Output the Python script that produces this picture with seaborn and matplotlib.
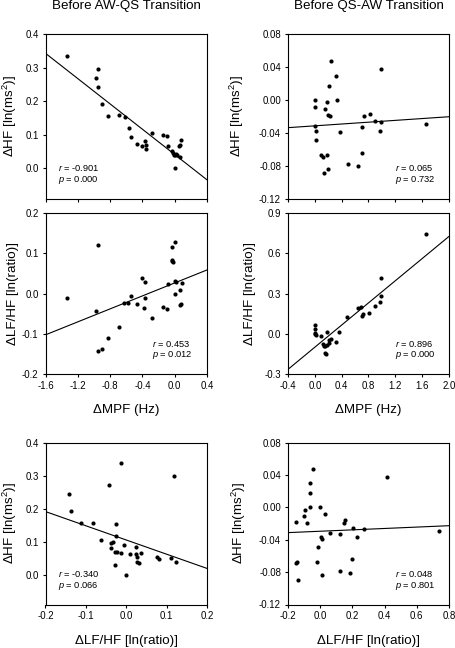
import numpy as np
import pandas as pd
import matplotlib
matplotlib.use("Agg")
import matplotlib.pyplot as plt
import seaborn as sns
from matplotlib.ticker import FormatStrFormatter

sns.set_theme(style="ticks")
plt.rcParams['font.family'] = ['Liberation Sans', 'DejaVu Sans']
plt.rcParams['mathtext.fontset'] = 'custom'
plt.rcParams['mathtext.rm'] = 'Liberation Sans'
plt.rcParams['mathtext.it'] = 'Liberation Sans:italic'
plt.rcParams['axes.unicode_minus'] = False

# ---------------- data ----------------
titles = ["Before AW-QS Transition", "Before QS-AW Transition"]

# Before AW-QS: dMPF vs dHF
awqs_mpf_hf_x = [-1.33, -0.95, -0.97, -0.95, -0.90, -0.82, -0.685, -0.62, -0.57, -0.54, -0.47, -0.40,
                 -0.37, -0.36, -0.36, -0.28, -0.15, -0.095, -0.08, -0.035, -0.02, -0.01, 0.0, 0.008,
                 0.02, 0.03, 0.06, 0.05, 0.07, 0.08]
awqs_mpf_hf_y = [0.333, 0.296, 0.269, 0.242, 0.192, 0.156, 0.157, 0.152, 0.119, 0.092, 0.072, 0.067,
                 0.082, 0.068, 0.057, 0.104, 0.100, 0.096, 0.065, 0.052, 0.045, 0.040, 0.0, 0.040,
                 0.042, 0.038, 0.032, 0.065, 0.069, 0.085]

# Before AW-QS: dMPF vs dLF/HF
awqs_mpf_lfhf_x = [-1.339, -0.954, -0.975, -0.954, -0.904, -0.822, -0.689, -0.623, -0.573, -0.544,
                   -0.470, -0.399, -0.362, -0.362, -0.374, -0.283, -0.151, -0.097, -0.084, -0.035,
                   -0.035, -0.028, -0.02, 0.0, 0.0, 0.008, 0.02, 0.06, 0.06, 0.08, 0.09]
awqs_mpf_lfhf_y = [-0.011, 0.121, -0.043, -0.144, -0.137, -0.111, -0.082, -0.024, -0.024, -0.005,
                   -0.027, 0.038, 0.029, -0.012, -0.037, -0.062, -0.033, -0.038, 0.024, 0.115,
                   0.084, 0.080, 0.078, 0.127, 0.0, 0.032, 0.028, 0.009, -0.028, -0.026, 0.026]

# Before AW-QS: dLF/HF vs dHF
awqs_lfhf_hf_x = [-0.142, -0.136, -0.111, -0.083, -0.062, -0.043, -0.038, -0.037, -0.034, -0.028,
                  -0.027, -0.024, -0.025, -0.025, -0.012, -0.012, -0.005, 0.0, 0.010, 0.025,
                  0.024, 0.027, 0.027, 0.031, 0.037, 0.076, 0.080, 0.112, 0.118, 0.123]
awqs_lfhf_hf_y = [0.245, 0.193, 0.158, 0.159, 0.107, 0.272, 0.081, 0.096, 0.100, 0.031,
                  0.071, 0.069, 0.155, 0.120, 0.339, 0.068, 0.091, 0.0, 0.065, 0.084,
                  0.063, 0.056, 0.041, 0.038, 0.066, 0.056, 0.048, 0.051, 0.299, 0.041]

# Before QS-AW: dMPF vs dHF
qsaw_mpf_hf_x = [0.006, 0.006, 0.006, 0.016, 0.016, 0.095, 0.12, 0.145, 0.14, 0.18, 0.18, 0.19,
                 0.19, 0.21, 0.22, 0.24, 0.32, 0.33, 0.37, 0.49, 0.65, 0.70, 0.70, 0.73, 0.82,
                 0.90, 0.97, 0.985, 0.99, 1.655]
qsaw_mpf_hf_y = [0.0, -0.008, -0.032, -0.037, -0.049, -0.067, -0.069, -0.011, -0.089, -0.003,
                 -0.067, -0.018, -0.084, 0.017, -0.019, 0.047, 0.029, 0.0, -0.039, -0.077,
                 -0.080, -0.033, -0.064, -0.019, -0.017, -0.026, -0.037, -0.027, 0.038, -0.029]

# Before QS-AW: dMPF vs dLF/HF
qsaw_mpf_lfhf_x = [0.0, 0.0, 0.0, 0.0, 0.016, 0.085, 0.12, 0.13, 0.155, 0.145, 0.17, 0.185, 0.185,
                   0.205, 0.215, 0.235, 0.32, 0.36, 0.48, 0.65, 0.69, 0.70, 0.72, 0.81, 0.90,
                   0.965, 0.98, 0.985, 1.66]
qsaw_mpf_lfhf_y = [0.064, 0.034, 0.009, 0.0, -0.008, -0.016, -0.075, -0.095, -0.095, -0.144,
                   -0.149, 0.012, -0.087, -0.070, -0.045, -0.040, -0.060, 0.012, 0.123, 0.192,
                   0.197, 0.130, 0.148, 0.158, 0.207, 0.234, 0.281, 0.417, 0.741]

# Before QS-AW: dLF/HF vs dHF
qsaw_lfhf_hf_x = [-0.152, -0.152, -0.144, -0.138, -0.10, -0.097, -0.08, -0.066, -0.066, -0.062,
                  -0.043, -0.018, -0.014, 0.0, 0.002, 0.011, 0.011, 0.027, 0.058, 0.124, 0.12,
                  0.145, 0.155, 0.188, 0.197, 0.203, 0.23, 0.275, 0.415, 0.736]
qsaw_lfhf_hf_y = [-0.018, -0.069, -0.067, -0.090, -0.011, -0.003, -0.019, 0.030, 0.018, 0.001,
                  0.048, -0.067, -0.049, 0.0, -0.037, -0.039, -0.084, -0.008, -0.032, -0.033,
                  -0.078, -0.019, -0.016, -0.081, -0.064, -0.026, -0.037, -0.027, 0.038, -0.029]

r_labels = ["-0.901", "0.065", "0.453", "0.896", "-0.340", "0.048"]
p_labels = ["0.000", "0.732", "0.012", "0.000", "0.066", "0.801"]

ticks_mpf_awqs = [-1.6, -1.2, -0.8, -0.4, 0.0, 0.4]
ticks_mpf_qsaw = [-0.4, 0.0, 0.4, 0.8, 1.2, 1.6, 2.0]
ticks_hf_awqs = [0.0, 0.1, 0.2, 0.3, 0.4]
ticks_hf_qsaw = [-0.12, -0.08, -0.04, 0.00, 0.04, 0.08]
ticks_lfhf_awqs_y = [-0.2, -0.1, 0.0, 0.1, 0.2]
ticks_lfhf_qsaw_y = [-0.3, 0.0, 0.3, 0.6, 0.9]
ticks_lfhf_awqs_x = [-0.2, -0.1, 0.0, 0.1, 0.2]
ticks_lfhf_qsaw_x = [-0.2, 0.0, 0.2, 0.4, 0.6, 0.8]

lab_hf = "ΔHF [ln(ms$^{2}$)]"
lab_lfhf = "ΔLF/HF [ln(ratio)]"
lab_mpf = "ΔMPF (Hz)"

# ---------------- figure ----------------
W, H = 456, 648
fig = plt.figure(figsize=(W / 100, H / 100), dpi=100)

def rect(x0, x1, y0, y1):
    return [x0 / W, 1 - y1 / H, (x1 - x0) / W, (y1 - y0) / H]

panels = [
    dict(r=rect(45.5, 207, 34, 199), x=awqs_mpf_hf_x, y=awqs_mpf_hf_y, xlim=(-1.6, 0.4), ylim=(-0.092, 0.4),
         xt=ticks_mpf_awqs, yt=ticks_hf_awqs, yf='%.1f', xf='%.1f', xl=None, yl=lab_hf, tx=0.08, ylx=-0.165),
    dict(r=rect(288, 449, 34, 199), x=qsaw_mpf_hf_x, y=qsaw_mpf_hf_y, xlim=(-0.4, 2.0), ylim=(-0.12, 0.08),
         xt=ticks_mpf_qsaw, yt=ticks_hf_qsaw, yf='%.2f', xf='%.1f', xl=None, yl=lab_hf, tx=0.663, ylx=-0.258),
    dict(r=rect(45.5, 207, 213, 374), x=awqs_mpf_lfhf_x, y=awqs_mpf_lfhf_y, xlim=(-1.6, 0.4), ylim=(-0.2, 0.2),
         xt=ticks_mpf_awqs, yt=ticks_lfhf_awqs_y, yf='%.1f', xf='%.1f', xl=lab_mpf, yl=lab_lfhf, tx=0.657, ylx=-0.165),
    dict(r=rect(288, 449, 213, 374), x=qsaw_mpf_lfhf_x, y=qsaw_mpf_lfhf_y, xlim=(-0.4, 2.0), ylim=(-0.3, 0.9),
         xt=ticks_mpf_qsaw, yt=ticks_lfhf_qsaw_y, yf='%.1f', xf='%.1f', xl=lab_mpf, yl=lab_lfhf, tx=0.663, ylx=-0.196),
    dict(r=rect(45.5, 207, 442.7, 604.5), x=awqs_lfhf_hf_x, y=awqs_lfhf_hf_y, xlim=(-0.2, 0.2), ylim=(-0.088, 0.4),
         xt=ticks_lfhf_awqs_x, yt=ticks_hf_awqs, yf='%.1f', xf='%.1f', xl=lab_lfhf, yl=lab_hf, tx=0.08, ylx=-0.165),
    dict(r=rect(288, 449, 442.7, 604.5), x=qsaw_lfhf_hf_x, y=qsaw_lfhf_hf_y, xlim=(-0.2, 0.8), ylim=(-0.12, 0.08),
         xt=ticks_lfhf_qsaw_x, yt=ticks_hf_qsaw, yf='%.2f', xf='%.1f', xl=lab_lfhf, yl=lab_hf, tx=0.663, ylx=-0.251),
]

tick_fs = 6.9
txt_fs = 6.7
lab_fs = 9.6

for i, pnl in enumerate(panels):
    ax = fig.add_axes(pnl['r'])
    ax.set_xlim(*pnl['xlim'])
    df = pd.DataFrame({'x': pnl['x'], 'y': pnl['y']})
    sns.regplot(data=df, x='x', y='y', ax=ax, ci=None, truncate=False,
                scatter_kws=dict(s=9, color='black', linewidths=0, alpha=1),
                line_kws=dict(color='black', lw=0.8))
    ax.set_xlim(*pnl['xlim'])
    ax.set_ylim(*pnl['ylim'])
    ax.set_xticks(pnl['xt'])
    ax.set_yticks(pnl['yt'])
    ax.xaxis.set_major_formatter(FormatStrFormatter(pnl['xf']))
    ax.yaxis.set_major_formatter(FormatStrFormatter(pnl['yf']))
    ax.tick_params(axis='both', direction='out', length=2.5, width=0.8, color='black',
                   labelsize=tick_fs, labelcolor='black', pad=2.5)
    for s in ax.spines.values():
        s.set_visible(True)
        s.set_linewidth(0.8)
        s.set_color('black')
    if pnl['xl'] is None:
        ax.tick_params(axis='x', labelbottom=False)
        ax.set_xlabel('')
    else:
        ax.set_xlabel(pnl['xl'], fontsize=lab_fs, color='black')
        ax.xaxis.set_label_coords(0.5, -0.188)
    ax.set_ylabel(pnl['yl'], fontsize=lab_fs, color='black')
    ax.yaxis.set_label_coords(pnl['ylx'], 0.5)
    ax.text(pnl['tx'], 0.188, "$r$ = " + r_labels[i], transform=ax.transAxes,
            fontsize=txt_fs, va='center', ha='left', color='black')
    ax.text(pnl['tx'], 0.115, "$p$ = " + p_labels[i], transform=ax.transAxes,
            fontsize=txt_fs, va='center', ha='left', color='black')

fig.text(126.2 / W, 1 - 6.5 / H, titles[0], ha='center', va='center', fontsize=9.6, color='black')
fig.text(368.5 / W, 1 - 6.5 / H, titles[1], ha='center', va='center', fontsize=9.6, color='black')

fig.savefig('out.png', dpi=100)
